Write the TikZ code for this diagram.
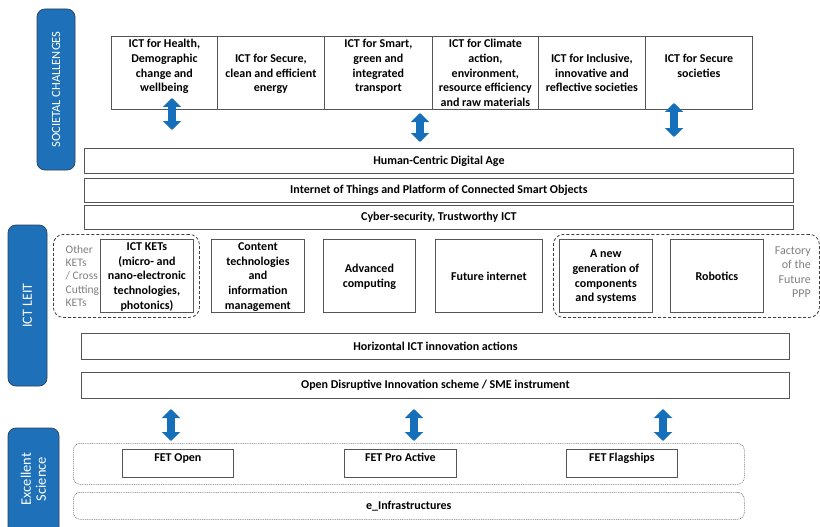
\documentclass[tikz,border=0pt]{standalone}
\usepackage{fontspec}
\setmainfont{Carlito}
\usetikzlibrary{arrows.meta}
\definecolor{tabblue}{RGB}{30,113,185}
\definecolor{tabline}{RGB}{45,62,88}
\definecolor{arrowblue}{RGB}{22,111,186}
\definecolor{boxline}{RGB}{85,85,85}
\definecolor{sidegray}{RGB}{128,128,128}

\begin{document}
\begin{tikzpicture}[x=1pt,y=-1pt]
   \tikzstyle{every node}=[font=\fontsize{12}{14.6}\selectfont\bfseries, inner sep=0pt, align=center]
   \tikzstyle{cell}=[draw=boxline, line width=0.8pt, anchor=north west]
   \tikzstyle{tallcell}=[cell, text depth=-4pt]
   \tikzstyle{bar}=[cell, minimum width=709]
   \tikzstyle{group}=[draw=black!75, line width=0.8pt, dash pattern=on 3pt off 2pt, rounded corners=10pt, anchor=north west, minimum height=83]
   \tikzstyle{dotgroup}=[draw=black!55, line width=0.6pt, dash pattern=on 1pt off 0.8pt, rounded corners=7pt, anchor=north west, minimum width=671]
   \tikzstyle{tab}=[fill=tabblue, draw=tabline, line width=0.7pt, rounded corners=8pt, rotate=90, text=white, font=\fontsize{12.5}{15}\selectfont]
   \tikzstyle{side}=[text=sidegray, font=\fontsize{11.5}{13.4}\selectfont]
   \tikzstyle{updown}=[draw=arrowblue, line width=8pt, {Triangle[length=9pt,width=18pt]}-{Triangle[length=9pt,width=18pt]}]

\useasboundingbox (0,0) rectangle (820,527);
\clip (0,0) rectangle (820,527);

\node[tab, minimum width=161, minimum height=38] (soc) at (56,89.5) {SOCIETAL CHALLENGES};
\node[tab, minimum width=161, minimum height=39, font=\fontsize{14}{15}\selectfont] (leit) at (27.5,305.5) {ICT LEIT};
\node[tab, minimum width=118, minimum height=51, font=\fontsize{14.5}{15}\selectfont] (exc) at (33.5,487) {\hspace*{16pt}Excellent\\\hspace*{16pt}Science};

\node[tallcell, minimum width=106, minimum height=73] (health) at (111,36) {ICT for Health,\\Demographic\\change and\\wellbeing\\\strut};
\node[tallcell, minimum width=107, minimum height=73] (energy) at (217,36) {ICT for Secure,\\clean and efficient\\energy};
\node[tallcell, minimum width=108, minimum height=73] (transport) at (324,36) {ICT for Smart,\\green and\\integrated\\transport\\\strut};
\node[tallcell, minimum width=106, minimum height=73] (climate) at (432,36) {ICT for Climate\\action,\\environment,\\resource efficiency\\and raw materials};
\node[tallcell, minimum width=107, minimum height=73] (inclusive) at (538,36) {ICT for Inclusive,\\innovative and\\reflective societies};
\node[tallcell, minimum width=107, minimum height=73] (secure) at (645,36) {ICT for Secure\\societies\\\strut};

\coordinate (t1a) at (172,98);
\coordinate (t1b) at (172,130);
\coordinate (t2a) at (420,113);
\coordinate (t2b) at (420,142);
\coordinate (t3a) at (674,103);
\coordinate (t3b) at (674,137);
\draw[updown] (t1a) -- (t1b);
\draw[updown] (t2a) -- (t2b);
\draw[updown] (t3a) -- (t3b);

\node[bar, minimum height=25] (human) at (84,148) {Human-Centric Digital Age};
\node[bar, minimum height=24] (iot) at (84,178) {Internet of Things and Platform of Connected Smart Objects};
\node[bar, minimum height=24] (cyber) at (84,205) {Cyber-security, Trustworthy ICT};

\node[group, minimum width=146] (ketgroup) at (53,234) {};
\node[group, minimum width=266] (fofgroup) at (553,234) {};
\node[side, anchor=west, align=left] (otherkets) at (65.5,276) {Other\\KETs\\/ Cross\\Cutting\\KETs};
\node[side, anchor=east, align=right, font=\fontsize{12}{14.5}\selectfont] (factory) at (811,272) {Factory\\of the\\Future\\PPP};

\node[tallcell, minimum width=93, minimum height=73] (kets) at (100,239) {ICT KETs\\(micro- and\\nano-electronic\\technologies,\\photonics)};
\node[tallcell, minimum width=93, minimum height=73] (content) at (211,239) {Content\\technologies\\and\\information\\management};
\node[tallcell, minimum width=92, minimum height=73] (computing) at (323,239) {Advanced\\computing};
\node[cell, minimum width=107, minimum height=73] (internet) at (435,239) {Future internet};
\node[tallcell, minimum width=93, minimum height=73] (components) at (559,239) {A new\\generation of\\components\\and systems};
\node[cell, minimum width=93, minimum height=73] (robotics) at (670,239) {Robotics};

\node[cell, minimum width=708, minimum height=26] (horizontal) at (81,333) {Horizontal ICT innovation actions};
\node[cell, minimum width=708, minimum height=26] (odi) at (81,372) {Open Disruptive Innovation scheme / SME instrument};

\coordinate (b1a) at (171,409);
\coordinate (b1b) at (171,441);
\coordinate (b2a) at (414,409);
\coordinate (b2b) at (414,441);
\coordinate (b3a) at (663,409);
\coordinate (b3b) at (663,441);
\draw[updown] (b1a) -- (b1b);
\draw[updown] (b2a) -- (b2b);
\draw[updown] (b3a) -- (b3b);

\node[dotgroup, minimum height=41] (fetgroup) at (73,443) {};
\node[cell, minimum width=111, minimum height=28, text depth=12pt] (fetopen) at (122,449) {FET Open};
\node[cell, minimum width=112, minimum height=28, text depth=12pt] (fetpro) at (344,449) {FET Pro Active};
\node[cell, minimum width=111, minimum height=28, text depth=12pt] (fetflag) at (566,449) {FET Flagships};
\node[dotgroup, minimum height=27] (infra) at (73,492) {e\_Infrastructures};

\end{tikzpicture}
\end{document}
